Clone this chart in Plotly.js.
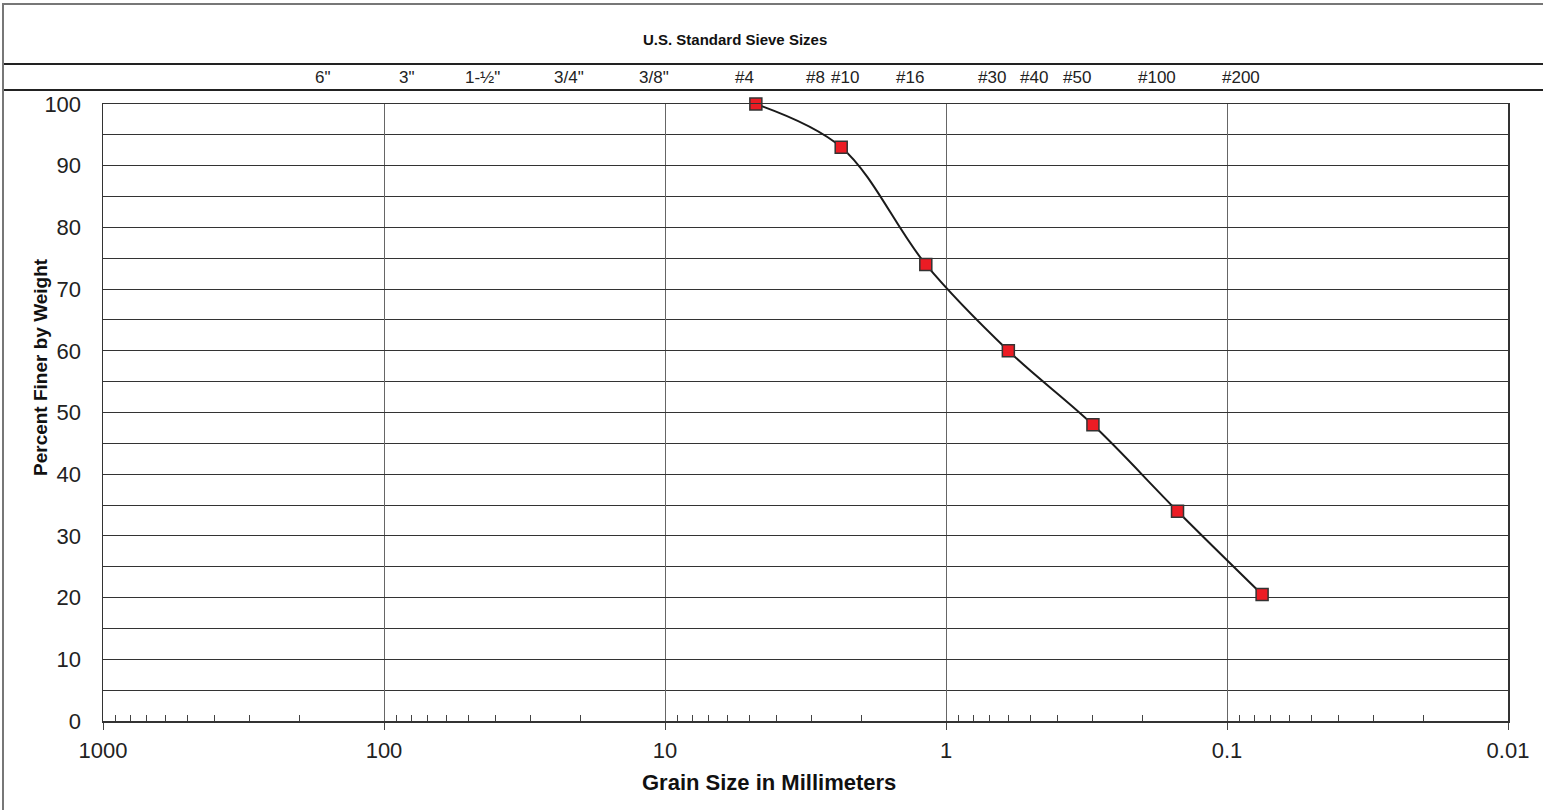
<!DOCTYPE html>
<html>
<head>
<meta charset="utf-8">
<script src="https://cdn.plot.ly/plotly-3.0.1.min.js"></script>
<style>
  html, body { margin: 0; padding: 0; background: #fff; }
  #chart { width: 1543px; height: 810px; }
</style>
</head>
<body>
<div id="chart"></div>
<script>
// ---- Data ----
const grainSizeMM = [4.75, 2.36, 1.18, 0.6, 0.3, 0.15, 0.075];
const percentFiner = [100, 93, 74, 60, 48, 34, 20.5];

const sieveLabels = ['6"', '3"', '1-½"', '3/4"', '3/8"', '#4', '#8', '#10', '#16', '#30', '#40', '#50', '#100', '#200'];
const sieveSizesMM = [152.4, 76.2, 38.1, 19.05, 9.525, 4.75, 2.36, 2.0, 1.18, 0.6, 0.425, 0.3, 0.15, 0.075];

const xTickVals = [1000, 100, 10, 1, 0.1, 0.01];
const xTickText = ['1000', '100', '10', '1', '0.1', '0.01'];

// ---- Geometry helpers (page pixels -> paper coords) ----
const W = 1543, H = 810;
const M = { l: 103, r: 35, t: 104, b: 89 };
const PW = W - M.l - M.r, PH = H - M.t - M.b;
const fx = px => (px - M.l) / PW;
const fy = py => (H - M.b - py) / PH;
const X_RANGE = [3, -2];
const xPix = v => M.l + (X_RANGE[0] - Math.log10(v)) / (X_RANGE[0] - X_RANGE[1]) * PW;

// minor ticks at 2..9 of each decade
const minorVals = [];
[100, 10, 1, 0.1, 0.01].forEach(d => { for (let k = 2; k <= 9; k++) minorVals.push(+(d * k).toPrecision(3)); });

const ARIAL = "'Liberation Sans', Arial, Helvetica, sans-serif";
const SIEVE_FONT_SIZE = 17;

// de-overlap sieve labels (right-anchored at their sieve size), shifting left when they collide
const ctx = document.createElement('canvas').getContext('2d');
ctx.font = SIEVE_FONT_SIZE + "px 'Liberation Sans', Arial, sans-serif";
const rights = sieveSizesMM.map(xPix);
const widths = sieveLabels.map(t => ctx.measureText(t).width);
const shifts = sieveLabels.map(() => 0);
for (let i = sieveLabels.length - 2; i >= 0; i--) {
  const nextLeft = rights[i + 1] + shifts[i + 1] - widths[i + 1];
  const myRight = rights[i] + shifts[i];
  if (myRight > nextLeft - 6) shifts[i] = (nextLeft - 6) - rights[i];
}

const trace = {
  x: grainSizeMM,
  y: percentFiner,
  type: 'scatter',
  mode: 'lines+markers',
  line: { color: '#1a1a1a', width: 2, shape: 'spline', smoothing: 1 },
  marker: { symbol: 'square', size: 12, color: '#ec1c24', line: { color: '#333', width: 1.5 } },
  hoverinfo: 'x+y',
  showlegend: false,
  cliponaxis: false
};

const annotations = sieveLabels.map((lab, i) => ({
  text: lab,
  x: Math.log10(sieveSizesMM[i]),
  xref: 'x',
  xshift: shifts[i],
  y: fy(78), 
  yref: 'paper',
  xanchor: 'right',
  yanchor: 'middle',
  showarrow: false,
  font: { family: ARIAL, size: SIEVE_FONT_SIZE, color: '#222' }
}));
annotations.push({
  text: 'U.S. Standard Sieve Sizes',
  x: fx(735), xref: 'paper',
  y: fy(40), yref: 'paper',
  xanchor: 'center', yanchor: 'middle',
  showarrow: false,
  font: { family: ARIAL, size: 15, color: '#111', weight: 'bold' }
});
annotations.push({
  text: 'Percent Finer by Weight',
  textangle: -90,
  x: fx(40), xref: 'paper', xanchor: 'center',
  y: fy(256), yref: 'paper', yanchor: 'top',
  showarrow: false,
  font: { family: ARIAL, size: 19, color: '#111', weight: 'bold' }
});
annotations.push({
  text: 'Grain Size in Millimeters',
  x: fx(769), xref: 'paper', xanchor: 'center',
  y: fy(782), yref: 'paper', yanchor: 'middle',
  showarrow: false,
  font: { family: ARIAL, size: 22, color: '#111', weight: 'bold' }
});

const hline = (py, color, width) => ({
  type: 'line', xref: 'paper', yref: 'paper',
  x0: fx(3), x1: fx(1545), y0: fy(py), y1: fy(py),
  line: { color: color, width: width }
});

const shapes = [
  hline(4, '#777', 2),
  hline(64, '#222', 2),
  hline(90, '#222', 2),
  { type: 'line', xref: 'paper', yref: 'paper', x0: fx(3), x1: fx(3), y0: fy(3), y1: fy(812), line: { color: '#777', width: 2 } }
];

const layout = {
  width: W, height: H,
  margin: M,
  paper_bgcolor: '#fff',
  plot_bgcolor: '#fff',
  font: { family: ARIAL, color: '#222' },
  xaxis: {
    type: 'log',
    range: X_RANGE,
    tickmode: 'array',
    tickvals: xTickVals,
    ticktext: xTickText,
    tickfont: { family: ARIAL, size: 22, color: '#222' },
    ticks: 'outside', ticklen: 7, tickwidth: 1, tickcolor: '#444',
    ticklabelstandoff: 2,
    showgrid: true, gridcolor: '#666', gridwidth: 1,
    showline: true, linecolor: '#333', linewidth: 1.5, mirror: true,
    zeroline: false,
    minor: { tickmode: 'array', tickvals: minorVals, ticks: 'inside', ticklen: 6, tickwidth: 1, tickcolor: '#444', showgrid: false }
  },
  yaxis: {
    range: [0, 100],
    tickmode: 'linear', tick0: 0, dtick: 10,
    tickfont: { family: ARIAL, size: 22, color: '#222' },
    ticks: '', ticklabelstandoff: 16,
    showgrid: true, gridcolor: '#333', gridwidth: 1,
    showline: true, linecolor: '#333', linewidth: 1.5, mirror: true,
    zeroline: false,
    minor: { dtick: 5, showgrid: true, gridcolor: '#333', gridwidth: 1, ticks: '' }
  },
  annotations: annotations,
  shapes: shapes
};

Plotly.newPlot('chart', [trace], layout, { displayModeBar: false, staticPlot: true });
</script>
</body>
</html>
